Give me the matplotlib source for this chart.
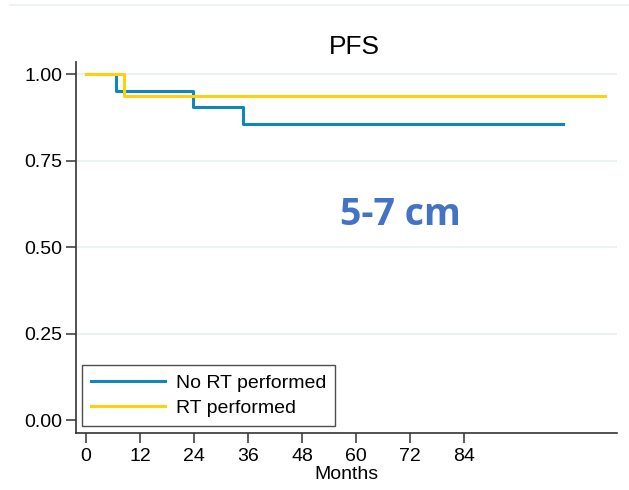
import matplotlib
matplotlib.use("Agg")
import matplotlib.pyplot as plt
from matplotlib.lines import Line2D

# Kaplan-Meier step data (months, survival)
no_rt_t = [0, 6.7, 23.9, 34.8, 106]
no_rt_s = [1.0, 20 / 21, 19 / 21, 18 / 21, 18 / 21]
rt_t = [0, 8.4, 115.3]
rt_s = [1.0, 15 / 16, 15 / 16]

xticks = [0, 12, 24, 36, 48, 60, 72, 84]
yticks = [0.0, 0.25, 0.5, 0.75, 1.0]

blue = "#1186bd"
yellow = "#fcd20f"

plt.rcParams["font.family"] = ["Liberation Sans", "DejaVu Sans"]

fig = plt.figure(figsize=(6.29, 4.90), dpi=100)
ax = fig.add_axes([0.1208, 0.1163, 0.981 - 0.1208, 0.8735 - 0.1163])

for y in yticks[1:]:
    ax.axhline(y, color="#eaf1f3", lw=1.5, zorder=0)

ax.step(no_rt_t, no_rt_s, where="post", color=blue, lw=2.2, label="No RT performed")
ax.step(rt_t, rt_s, where="post", color=yellow, lw=2.2, label="RT performed")

ax.set_xlim(-2.2, 118)
ax.set_ylim(-0.0376, 1.035)
ax.set_xticks(xticks)
ax.set_yticks(yticks)
ax.set_yticklabels([f"{v:.2f}" for v in yticks])
for s in ["top", "right"]:
    ax.spines[s].set_visible(False)
for s in ["left", "bottom"]:
    ax.spines[s].set_color("#333333")
    ax.spines[s].set_linewidth(1.2)
ax.tick_params(axis="both", labelsize=14, length=7, width=1.1, color="#333333", pad=3)
ax.tick_params(axis="x", pad=4)
ax.set_xlabel("Months", fontsize=14, labelpad=0.5)
ax.set_title("PFS", fontsize=19, x=0.515, pad=6)

ax.text(69.8, 0.592, "5-7 cm", fontsize=27, fontweight="bold", color="#4472c4",
        family="Open Sans", ha="center", va="center")

leg = ax.legend(loc="lower left", bbox_to_anchor=(0.011, 0.019), fontsize=14,
                frameon=True, fancybox=False, edgecolor="#222222",
                handlelength=3.8, handletextpad=0.6, borderpad=0.45,
                labelspacing=0.4, borderaxespad=0)
leg.get_frame().set_linewidth(1.0)

# thin frame line across the top of the graph region
fig.add_artist(Line2D([0.016, 1.0], [0.99, 0.99], color="#eaf1f3", lw=1.2))

fig.savefig("out.png", dpi=100, facecolor="white")
